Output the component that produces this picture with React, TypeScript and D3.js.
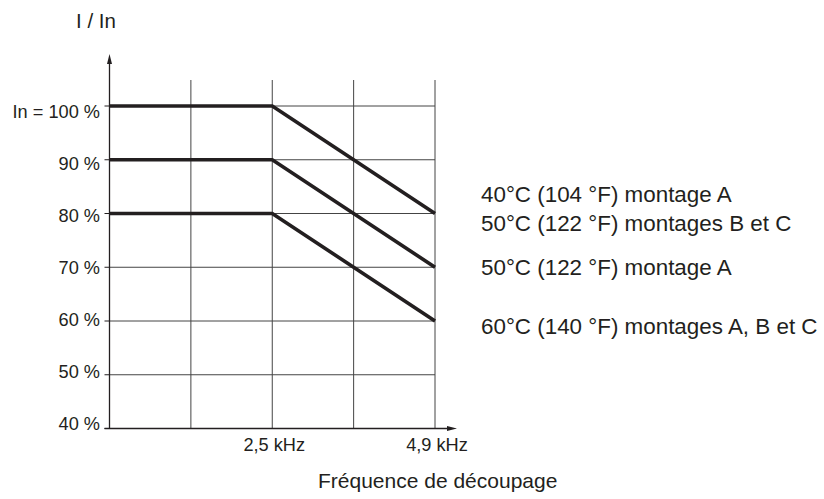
import React from 'react';
import * as d3 from 'd3';

// frequency (kHz) at the chart's left edge and at each vertical grid line
const freqStart = 0.1;
const freqGrid = [1.3, 2.5, 3.7, 4.9];
const freqTicks = [2.5, 4.9];
const freqTickLabels = ['2,5 kHz', '4,9 kHz'];

// current ratio ticks (%)
const pctTicks = [40, 50, 60, 70, 80, 90, 100];
const pctTickLabels = ['40 %', '50 %', '60 %', '70 %', '80 %', '90 %', 'In = 100 %'];

// derating curves: frequency breakpoints and I/In values
const curveFreq = [0.1, 2.5, 4.9];
const curve40 = [100, 100, 80];
const curve50 = [90, 90, 70];
const curve60 = [80, 80, 60];

const legend40 = ['40°C (104 °F) montage A', '50°C (122 °F) montages B et C'];
const legend50 = ['50°C (122 °F) montage A'];
const legend60 = ['60°C (140 °F) montages A, B et C'];

const W = 824;
const H = 499;
const ink = '#231f20';
const font = '"Liberation Sans", Arial, sans-serif';

const App = () => {
  const x = d3.scaleLinear().domain([freqStart, 4.9]).range([109.5, 435]);
  const y = d3.scaleLinear().domain([40, 100]).range([428.5, 106]);
  // tick labels sit a little lower than their ticks near the top
  const labelY = d3.scaleLinear().domain([40, 100]).range([429.5, 118]);
  // label block centre from the curve's end value
  const legendY = d3.scaleLinear().domain([60, 80]).range([326, 208.5]);

  const x0 = x(freqStart);
  const y0 = y(40);
  const gridTop = 80;

  const series = [
    { values: curve40, labels: legend40 },
    { values: curve50, labels: legend50 },
    { values: curve60, labels: legend60 },
  ];

  const line = d3
    .line<number>()
    .x((_, i) => x(curveFreq[i]))
    .y((d) => y(d));

  return (
    <svg
      width={W}
      height={H}
      style={{ position: 'absolute', left: 0, top: 0, background: '#fff' }}
      fontFamily={font}
    >
      {/* horizontal grid */}
      {pctTicks.slice(1).map((p) => (
        <line key={'h' + p} x1={x0} x2={x(4.9)} y1={y(p)} y2={y(p)} stroke="#444" strokeWidth={1} />
      ))}
      {/* vertical grid */}
      {freqGrid.map((f) => (
        <line key={'v' + f} x1={x(f)} x2={x(f)} y1={gridTop} y2={y0} stroke="#444" strokeWidth={1} />
      ))}

      {/* axes with arrows */}
      <line x1={x0} x2={x0} y1={y0} y2={60} stroke={ink} strokeWidth={1.3} />
      <path d={`M${x0},54 L${x0 - 2.5},64 L${x0 + 2.5},64 Z`} fill={ink} />
      <line x1={x0 - 5} x2={451} y1={y0} y2={y0} stroke={ink} strokeWidth={1.3} />
      <path d={`M457,${y0} L447,${y0 - 2.5} L447,${y0 + 2.5} Z`} fill={ink} />

      {/* y ticks and labels */}
      {pctTicks.map((p, i) => (
        <g key={'yt' + p}>
          <line x1={x0 - 5} x2={x0} y1={y(p)} y2={y(p)} stroke={ink} strokeWidth={1} />
          <text x={100} y={labelY(p)} textAnchor="end" fontSize={18.2} fill={ink}>
            {pctTickLabels[i]}
          </text>
        </g>
      ))}

      {/* x tick labels */}
      {freqTicks.map((f, i) => (
        <text key={'xt' + f} x={x(f) + 2} y={451} textAnchor="middle" fontSize={18.2} fill={ink}>
          {freqTickLabels[i]}
        </text>
      ))}

      {/* curves */}
      {series.map((s, i) => (
        <path
          key={'c' + i}
          d={line(s.values) || ''}
          fill="none"
          stroke={ink}
          strokeWidth={3.6}
          strokeLinejoin="miter"
        />
      ))}

      {/* curve labels */}
      {series.map((s, i) => {
        const center = legendY(s.values[s.values.length - 1]);
        const gap = 29;
        const first = center - ((s.labels.length - 1) * gap) / 2 + 8;
        return s.labels.map((t, j) => (
          <text key={'l' + i + j} x={481} y={first + j * gap} fontSize={22.4} fill={ink}>
            {t}
          </text>
        ));
      })}

      {/* axis titles */}
      <text x={76} y={28} fontSize={20.5} fill={ink}>
        I / In
      </text>
      <text x={318} y={488} fontSize={21} fill={ink}>
        Fréquence de découpage
      </text>
    </svg>
  );
};

export default App;
